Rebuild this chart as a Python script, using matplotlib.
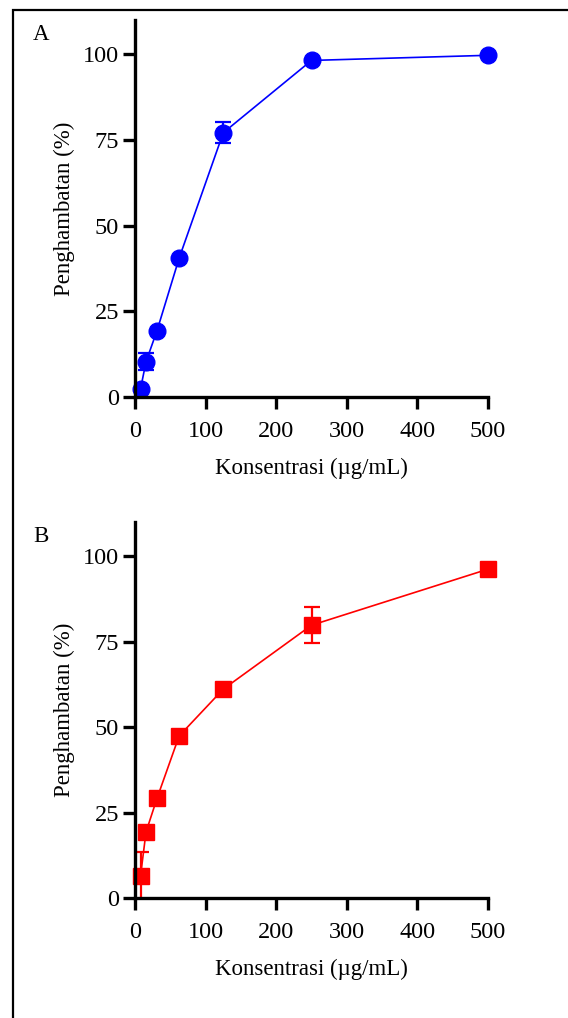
import matplotlib.pyplot as plt
from matplotlib.patches import Rectangle

plt.rcParams['font.family'] = ['Liberation Serif', 'DejaVu Serif']

konsentrasi = [7.8, 15.6, 31.25, 62.5, 125, 250, 500]

# panel A
hambat_a = [2.3, 10.3, 19.4, 40.5, 77.1, 98.2, 99.7]
sd_a = [0.0, 2.5, 0.0, 0.0, 3.0, 0.0, 0.0]

# panel B
hambat_b = [6.4, 19.3, 29.2, 47.4, 61.1, 79.8, 96.2]
sd_b = [7.2, 0.0, 0.0, 0.0, 0.0, 5.2, 0.0]

xticks = [0, 100, 200, 300, 400, 500]
yticks = [0, 25, 50, 75, 100]

W, H = 568, 1018
fig = plt.figure(figsize=(W / 100, H / 100), dpi=100)

# frame around the figure (runs off the right and bottom edges)
fig.patches.append(Rectangle((13 / W, -0.1), 1.2, 1 - 10 / H + 0.1,
                             transform=fig.transFigure, fill=False,
                             edgecolor='black', linewidth=1.6))

panels = [
    ('A', hambat_a, sd_a, 'blue', 'o', 12, (135, 20, 488, 397)),
    ('B', hambat_b, sd_b, 'red', 's', 11, (135, 522, 488, 898)),
]

for label, vals, err, col, mk, ms, (x0, y0, x1, y1) in panels:
    ax = fig.add_axes([x0 / W, 1 - y1 / H, (x1 - x0) / W, (y1 - y0) / H])
    line, caps, bars = ax.errorbar(konsentrasi, vals, yerr=err, color=col,
                                   marker=mk, markersize=ms, linewidth=1.2,
                                   elinewidth=1.6, capsize=6, capthick=1.6,
                                   markeredgecolor=col, zorder=3)
    line.set_clip_on(False)
    ax.set_xlim(0, 500)
    ax.set_ylim(0, 110)
    ax.set_xticks(xticks)
    ax.set_yticks(yticks)
    ax.spines['top'].set_visible(False)
    ax.spines['right'].set_visible(False)
    for s in ('left', 'bottom'):
        ax.spines[s].set_linewidth(2.4)
        ax.spines[s].set_zorder(4)
    ax.tick_params(width=2.4, length=8.5, labelsize=17.5, pad=3)
    ax.tick_params(axis='x', pad=9)
    ax.set_xlabel('Konsentrasi (\u00b5g/mL)', fontsize=16.5, labelpad=11.5)
    ax.set_ylabel('Penghambatan (%)', fontsize=16.5, labelpad=6)
    fig.text(33 / W, 1 - (y0 + 14) / H, label, fontsize=16.5,
             ha='left', va='center')

fig.savefig('out.png', dpi=100)
